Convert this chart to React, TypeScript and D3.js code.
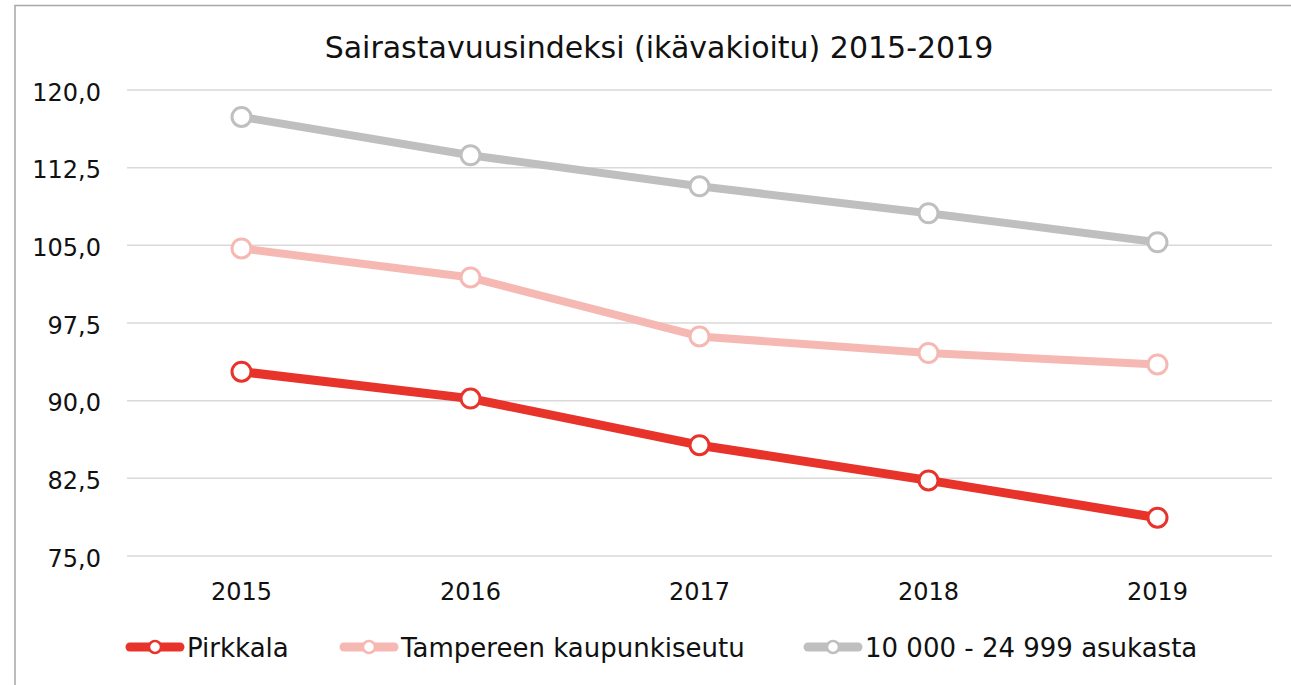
import * as d3 from "d3";
import React, { useEffect, useRef } from "react";

const years = ["2015", "2016", "2017", "2018", "2019"];
const seriesNames = ["Pirkkala", "Tampereen kaupunkiseutu", "10 000 - 24 999 asukasta"];
const pirkkala = [92.8, 90.2, 85.7, 82.3, 78.7];
const tampere = [104.7, 101.9, 96.2, 94.6, 93.5];
const asukasta = [117.4, 113.7, 110.7, 108.1, 105.3];
const yTicks = [75, 82.5, 90, 97.5, 105, 112.5, 120];
const colors = ["#e8332b", "#f6b8b3", "#bfbfbf"];

const W = 1291;
const H = 685;

const App: React.FC = () => {
  const svgRef = useRef<SVGSVGElement>(null);

  useEffect(() => {
    const svg = d3.select(svgRef.current);
    svg.selectAll("*").remove();
    const font = "'DejaVu Sans', sans-serif";

    // chart frame (runs off the right/bottom edge like the original)
    svg
      .append("rect")
      .attr("x", 15)
      .attr("y", 5.5)
      .attr("width", 1400)
      .attr("height", 800)
      .attr("fill", "#fff")
      .attr("stroke", "#a6a6a6")
      .attr("stroke-width", 1.5);

    svg
      .append("text")
      .attr("x", 659)
      .attr("y", 58)
      .attr("text-anchor", "middle")
      .attr("font-family", font)
      .attr("font-size", 30)
      .attr("fill", "#111")
      .text("Sairastavuusindeksi (ikävakioitu) 2015-2019");

    const x = d3.scaleBand().domain(years).range([127, 1272]).padding(0);
    const y = d3.scaleLinear().domain([75, 120]).range([556, 90]);
    const cx = (d: string) => (x(d) || 0) + x.bandwidth() / 2;

    svg
      .append("g")
      .selectAll("line")
      .data(yTicks)
      .join("line")
      .attr("x1", 127)
      .attr("x2", 1272)
      .attr("y1", (d) => y(d))
      .attr("y2", (d) => y(d))
      .attr("stroke", "#d9d9d9")
      .attr("stroke-width", 1.5);

    const fmt = (v: number) => v.toFixed(1).replace(".", ",");
    svg
      .append("g")
      .selectAll("text")
      .data(yTicks)
      .join("text")
      .attr("x", 101)
      .attr("y", (d) => y(d) + 10.5)
      .attr("text-anchor", "end")
      .attr("font-family", font)
      .attr("font-size", 24)
      .attr("fill", "#111")
      .text(fmt);

    svg
      .append("g")
      .selectAll("text")
      .data(years)
      .join("text")
      .attr("x", cx)
      .attr("y", 600)
      .attr("text-anchor", "middle")
      .attr("font-family", font)
      .attr("font-size", 24)
      .attr("fill", "#111")
      .text((d) => d);

    const allSeries = [pirkkala, tampere, asukasta];
    const line = d3
      .line<number>()
      .x((_, i) => cx(years[i]))
      .y((d) => y(d));

    // draw gray first so red is on top
    [2, 1, 0].forEach((s) => {
      const g = svg.append("g");
      g.append("path")
        .datum(allSeries[s])
        .attr("d", line)
        .attr("fill", "none")
        .attr("stroke", colors[s])
        .attr("stroke-width", s === 0 ? 9 : 8)
        .attr("stroke-linejoin", "round");
      g.selectAll("circle")
        .data(allSeries[s])
        .join("circle")
        .attr("cx", (_, i) => cx(years[i]))
        .attr("cy", (d) => y(d))
        .attr("r", 9.5)
        .attr("fill", "#fff")
        .attr("stroke", colors[s])
        .attr("stroke-width", 3);
    });

    // legend
    const legendX = [126, 340, 804];
    const legend = svg
      .append("g")
      .selectAll("g")
      .data(seriesNames)
      .join("g")
      .attr("transform", (_, i) => `translate(${legendX[i]},647)`);
    legend
      .append("line")
      .attr("x1", 4)
      .attr("x2", 54)
      .attr("stroke", (_, i) => colors[i])
      .attr("stroke-width", 9)
      .attr("stroke-linecap", "round");
    legend
      .append("circle")
      .attr("cx", 29)
      .attr("r", 6)
      .attr("fill", "#fff")
      .attr("stroke", (_, i) => colors[i])
      .attr("stroke-width", 2.5);
    legend
      .append("text")
      .attr("x", 61)
      .attr("y", 10)
      .attr("font-family", font)
      .attr("font-size", 26)
      .attr("fill", "#111")
      .text((d) => d);
  }, []);

  return (
    <svg
      ref={svgRef}
      width={W}
      height={H}
      style={{ position: "absolute", left: 0, top: 0 }}
    />
  );
};

export default App;
